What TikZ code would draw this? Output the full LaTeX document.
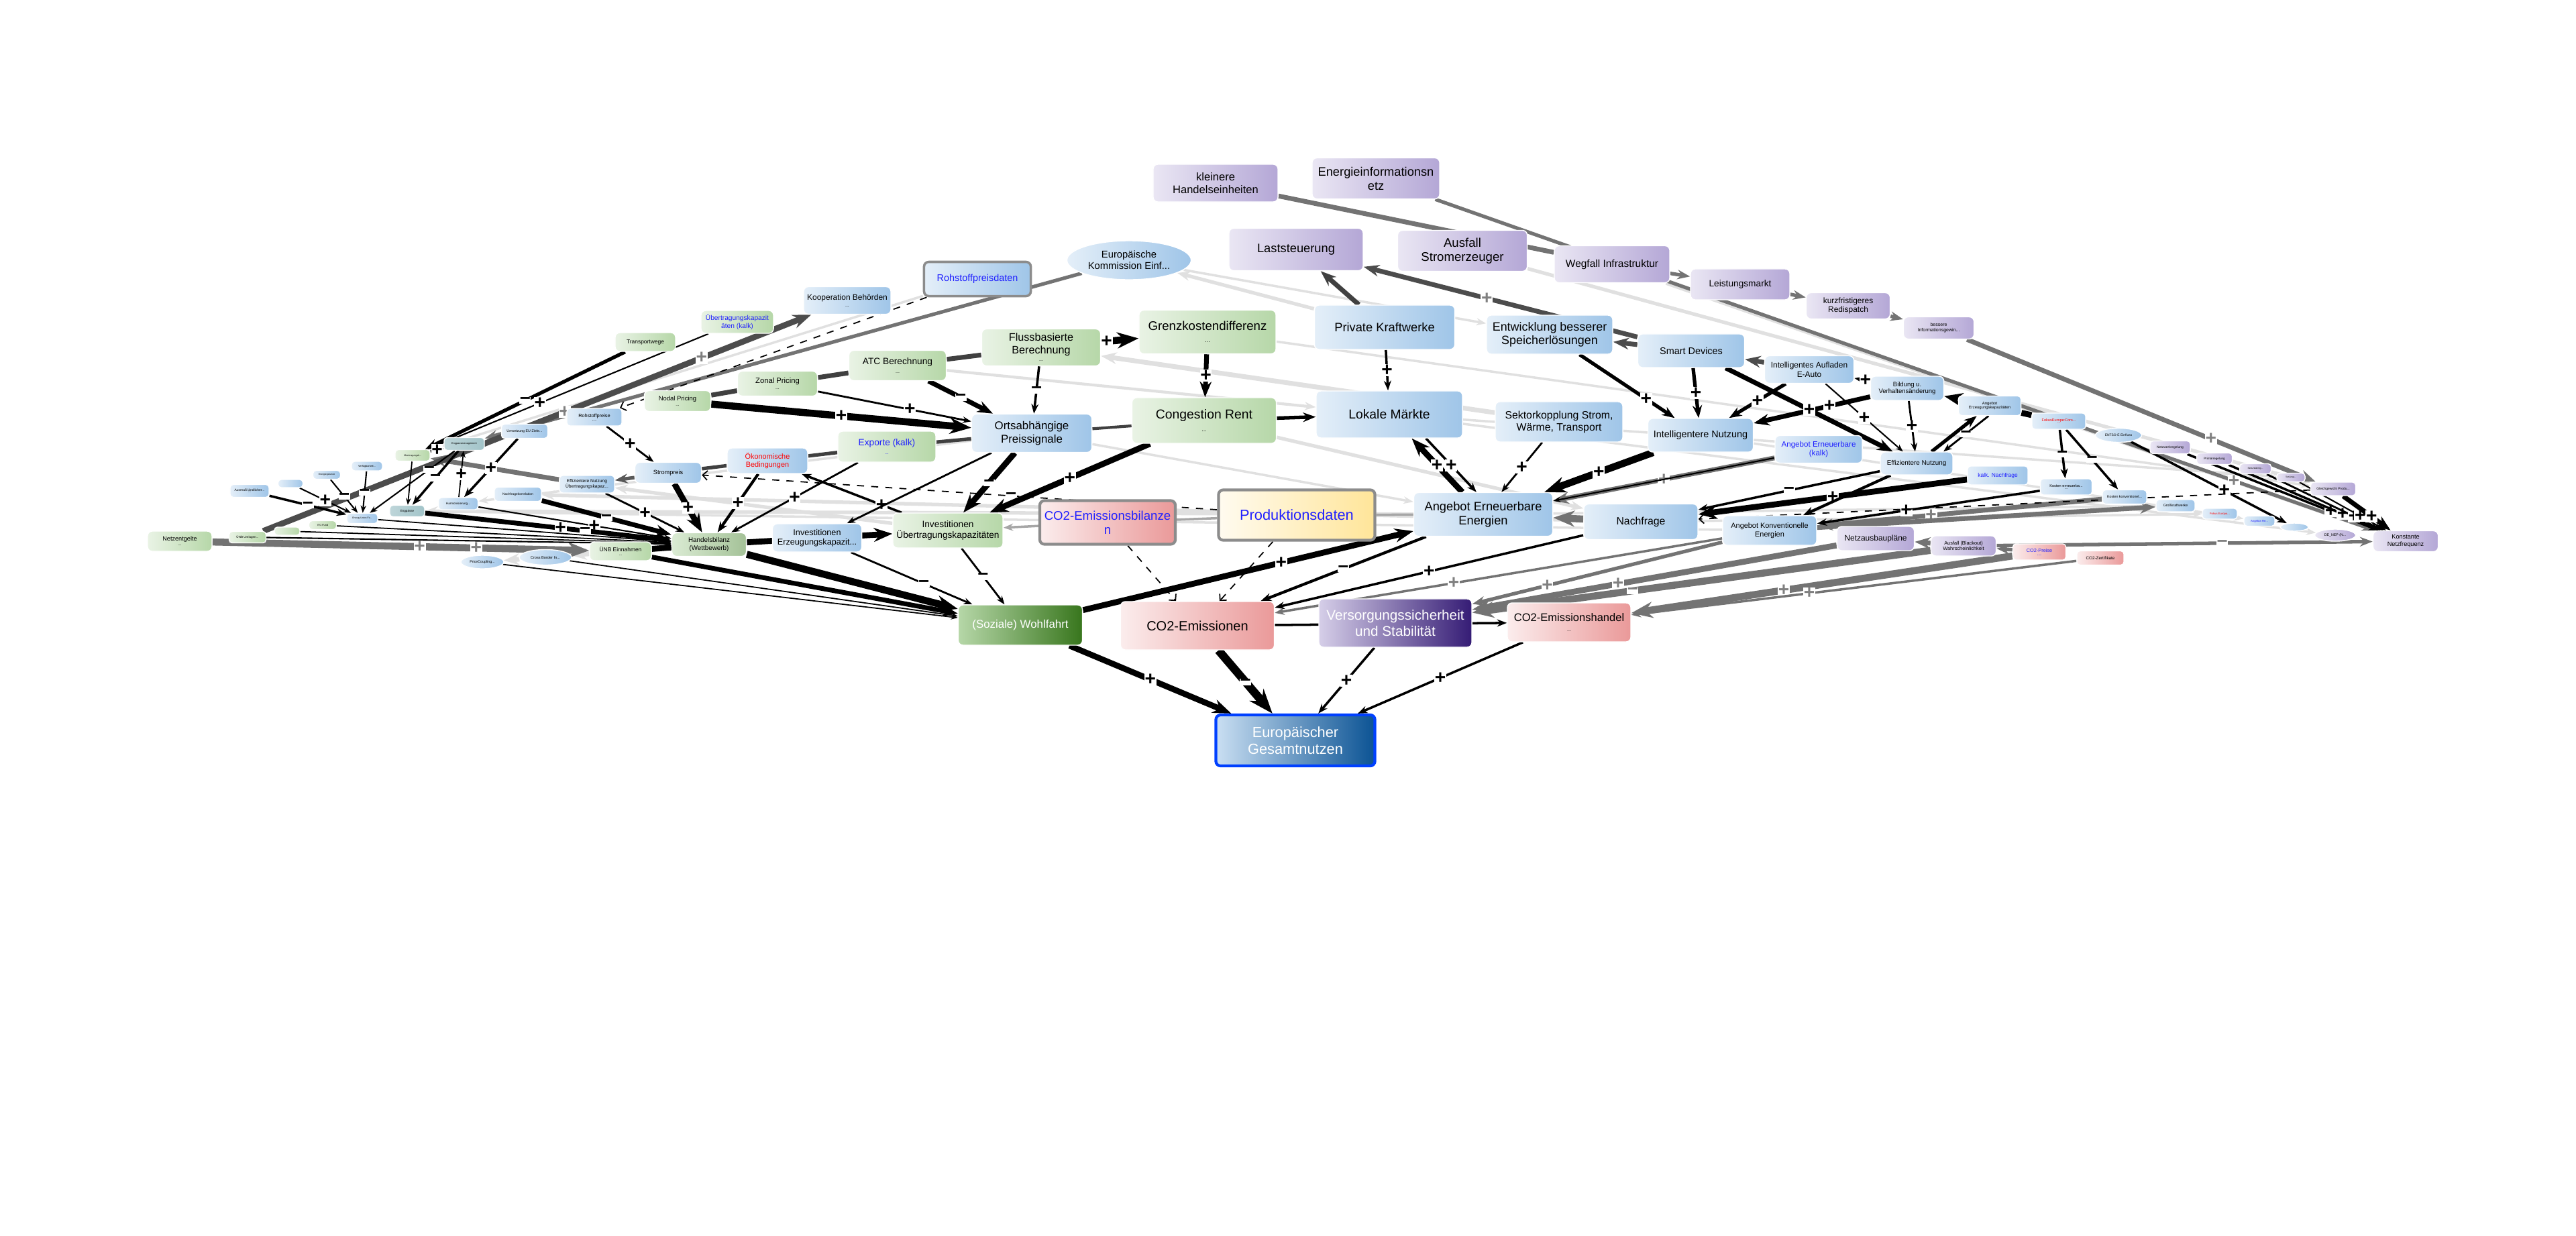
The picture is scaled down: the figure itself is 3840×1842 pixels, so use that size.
\documentclass[tikz,border=0pt]{standalone}
\usepackage{fontspec}
\setmainfont{Liberation Sans}
\usetikzlibrary{positioning,arrows.meta,shapes.geometric}

\definecolor{grn}{HTML}{B6D7A8}
\definecolor{blu}{HTML}{9FC5E8}
\definecolor{prp}{HTML}{B4A7D6}
\definecolor{rd}{HTML}{EA9999}
\definecolor{tl}{HTML}{A2C4C9}
\definecolor{yl}{HTML}{FFE599}
\definecolor{dgrn}{HTML}{38761D}
\definecolor{dprp}{HTML}{351C75}
\definecolor{dblu}{HTML}{0B5394}
\definecolor{txb}{HTML}{2020FF}

\newcommand\fz[1]{\fontsize{#1}{\fpeval{1.15*#1}}\selectfont}

\pgfdeclarelayer{bg}
\pgfsetlayers{bg,main}

\tikzset{
  bx/.style={rounded corners=2pt, draw=white, line width=.4pt, align=center, inner sep=.5pt},
  sml/.style={rounded corners=1.3pt},
  grb/.style={bx, left color=grn!30!white, right color=grn},
  blb/.style={bx, left color=blu!28!white, right color=blu},
  prb/.style={bx, left color=prp!28!white, right color=prp},
  rdb/.style={bx, left color=rd!18!white, right color=rd},
  tlb/.style={bx, left color=tl!70!white, right color=tl},
  ell/.style={ellipse, draw=white, line width=.4pt, align=center, inner sep=0pt, left color=blu!28!white, right color=blu},
  ln/.style={->, line width=#1},
  gy/.style={->, draw=black!55, line width=#1},
  lt/.style={->, draw=black!12, line width=#1},
  cn/.style={draw=black!75, line width=#1},
  dsh/.style={-{Straight Barb[scale=.8]}, dashed, line width=.5pt},
  sg/.style={fill=white, inner sep=.2pt, font=\fz{8}\bfseries},
  gs/.style={sg, text=black!50},
}

\begin{document}
\begin{tikzpicture}[x=0.01cm, y=-0.01cm, >={Stealth[scale=.55]}]
\useasboundingbox (0,0) rectangle (3840,1842);

% top: purple chain
\node[prb, minimum width=1.86cm, minimum height=.56cm, font=\fz{4.7}] (klein) at (1812,273) {kleinere\\Handelseinheiten};
\node[prb, minimum width=1.90cm, minimum height=.61cm, font=\fz{5.2}] (enetz) at (2051,266) {Energieinformationsn\\etz};
\node[prb, minimum width=2.00cm, minimum height=.63cm, font=\fz{5.2}] (last) at (1932,372) {Laststeuerung};
\node[prb, minimum width=1.93cm, minimum height=.61cm, font=\fz{5.3}] (ausst) at (2180,374) {Ausfall\\Stromerzeuger};
\node[prb, minimum width=1.72cm, minimum height=.55cm, font=\fz{4.4}] (wegf) at (2403,394) {Wegfall Infrastruktur};
\node[prb, minimum width=1.48cm, minimum height=.46cm, font=\fz{3.9}] (leist) at (2594,424) {Leistungsmarkt};
\node[prb, minimum width=1.25cm, minimum height=.39cm, font=\fz{3.4}] (kurz) at (2755,456) {kurzfristigeres\\Redispatch};
\node[prb, minimum width=1.05cm, minimum height=.33cm, font=\fz{2}] (bess) at (2890,489) {bessere\\Informationsgewin...};

% upper middle
\node[ell, minimum width=1.85cm, minimum height=.58cm, font=\fz{4.2}] (ekom) at (1683,388) {Europäische\\Kommission Einf...};
\node[blb, draw=black!45, line width=1pt, minimum width=1.59cm, minimum height=.51cm, font=\fz{4.1}, text=txb] (rohd) at (1457,416) {Rohstoffpreisdaten};
\node[blb, minimum width=1.30cm, minimum height=.41cm, font=\fz{3.4}] (koop) at (1263,448) {Kooperation Behörden\\[-1pt]{\fz{2}...}};
\node[grb, minimum width=1.08cm, minimum height=.34cm, font=\fz{2.9}, text=txb] (uebk) at (1099,480) {Übertragungskapazit\\äten (kalk)};
\node[grb, minimum width=.90cm, minimum height=.28cm, font=\fz{2.4}] (trans) at (962,510) {Transportwege};
\node[grb, minimum width=2.04cm, minimum height=.65cm, font=\fz{5.3}] (grenz) at (1800,495) {Grenzkostendifferenz\\[-1pt]{\fz{2.5}...}};
\node[grb, minimum width=1.77cm, minimum height=.55cm, font=\fz{4.6}] (fluss) at (1552,518) {Flussbasierte\\Berechnung\\[-2pt]{\fz{2}...}};
\node[grb, minimum width=1.45cm, minimum height=.45cm, font=\fz{3.9}] (atc) at (1338,545) {ATC Berechnung\\[-1pt]{\fz{2}...}};
\node[grb, minimum width=1.19cm, minimum height=.37cm, font=\fz{3.2}] (zonal) at (1159,572) {Zonal Pricing\\[-1pt]{\fz{2}...}};
\node[grb, minimum width=.99cm, minimum height=.31cm, font=\fz{2.7}] (nodal) at (1010,598) {Nodal Pricing\\[-1pt]{\fz{1.8}...}};
\node[blb, minimum width=2.09cm, minimum height=.66cm, font=\fz{5.2}] (privk) at (2064,488) {Private Kraftwerke};
\node[blb, minimum width=1.88cm, minimum height=.58cm, font=\fz{5.1}] (entw) at (2310,499) {Entwicklung besserer\\Speicherlösungen};
\node[blb, minimum width=1.59cm, minimum height=.50cm, font=\fz{4.1}] (smart) at (2521,523) {Smart Devices};
\node[blb, minimum width=1.33cm, minimum height=.41cm, font=\fz{3.4}] (ladn) at (2697,551) {Intelligentes Aufladen\\E-Auto};
\node[blb, minimum width=1.09cm, minimum height=.36cm, font=\fz{2.7}] (bild) at (2843,579) {Bildung u.\\Verhaltensänderung};
\node[blb, sml, minimum width=.93cm, minimum height=.29cm, font=\fz{1.7}] (aerz) at (2966,605) {Angebot\\Erzeugungskapazitäten};
\node[blb, sml, minimum width=.80cm, minimum height=.24cm, font=\fz{1.6}, text=red] (fokus) at (3069,628) {FokusEurope:Fors...\\[-1pt]...};

% middle row
\node[blb, minimum width=1.79cm, minimum height=.57cm, font=\fz{4.8}] (ortsab) at (1538,646) {Ortsabhängige\\Preissignale};
\node[grb, minimum width=2.15cm, minimum height=.68cm, font=\fz{5.5}] (cong) at (1795,627) {Congestion Rent\\[-1pt]{\fz{2.5}...}};
\node[blb, minimum width=2.18cm, minimum height=.70cm, font=\fz{5.5}] (lokm) at (2071,618) {Lokale Märkte};
\node[blb, minimum width=1.90cm, minimum height=.60cm, font=\fz{4.5}] (sekt) at (2324,629) {Sektorkopplung Strom,\\Wärme, Transport};
\node[blb, minimum width=1.57cm, minimum height=.50cm, font=\fz{4.1}] (intn) at (2535,649) {Intelligentere Nutzung};
\node[blb, minimum width=1.30cm, minimum height=.41cm, font=\fz{3.3}, text=txb] (aeek) at (2711,670) {Angebot Erneuerbare\\(kalk)};
\node[blb, minimum width=1.08cm, minimum height=.34cm, font=\fz{2.8}] (effn) at (2857,691) {Effizientere Nutzung};
\node[blb, sml, minimum width=.90cm, minimum height=.28cm, font=\fz{2.4}, text=txb] (kalkn) at (2978,709) {kalk. Nachfrage};
\node[blb, sml, minimum width=.77cm, minimum height=.24cm, font=\fz{1.6}] (koste) at (3080,726) {Kosten erneuerba...\\[-1pt]...};
\node[blb, sml, minimum width=.66cm, minimum height=.21cm, font=\fz{1.5}] (kostk) at (3167,741) {Kosten konventionel...};
\node[ell, minimum width=.69cm, minimum height=.21cm, font=\fz{1.4}] (entso) at (3158,649) {ENTSO-E Einfluss};
\node[prb, sml, minimum width=.60cm, minimum height=.19cm, font=\fz{1.4}] (nwr) at (3235,667) {Netzwerkregelung};
\node[prb, sml, minimum width=.53cm, minimum height=.17cm, font=\fz{1.3}] (prim) at (3301,684) {Primärregelung};
\node[prb, sml, minimum width=.47cm, minimum height=.15cm, font=\fz{1}] (sek) at (3362,699) {Sekundärreg...};
\node[prb, sml, minimum width=.42cm, minimum height=.13cm, font=\fz{.9}] (ter) at (3415,712) {Tertiärreg...};
\node[prb, sml, minimum width=.67cm, minimum height=.20cm, font=\fz{1.4}] (glg) at (3478,729) {Gleichgewicht Produ...};
\node[blb, sml, minimum width=.58cm, minimum height=.18cm, font=\fz{1.5}] (gk) at (3243,754) {Großkraftwerke};
\node[blb, sml, minimum width=.52cm, minimum height=.16cm, font=\fz{1.2}, text=red] (fokus2) at (3309,766) {Fokus Europa...};
\node[blb, sml, minimum width=.46cm, minimum height=.15cm, font=\fz{1.2}, text=txb] (angre) at (3368,777) {Angebot Re...};
\node[ell, minimum width=.42cm, minimum height=.12cm] (emp2) at (3420,786) {};
\node[ell, left color=prp!28!white, right color=prp, minimum width=.61cm, minimum height=.18cm, font=\fz{1.5}] (denep) at (3481,798) {DE\_NEP (N...};
\node[prb, minimum width=.97cm, minimum height=.31cm, font=\fz{2.6}] (kons) at (3586,807) {Konstante\\Netzfrequenz};

% lower middle row
\node[grb, minimum width=1.64cm, minimum height=.52cm, font=\fz{3.9}] (invue) at (1413,791) {Investitionen\\Übertragungskapazitäten};
\node[rdb, draw=black!45, line width=1.2pt, minimum width=2.02cm, minimum height=.65cm, font=\fz{5.3}, text=txb] (co2bil) at (1651,779) {CO2-Emissionsbilanze\\n};
\node[bx, draw=black!45, line width=1.2pt, left color=yl!15!white, right color=yl, minimum width=2.33cm, minimum height=.75cm, font=\fz{6.2}, text=txb] (prod) at (1933,768) {Produktionsdaten};
\node[blb, minimum width=2.07cm, minimum height=.65cm, font=\fz{5.2}] (aee) at (2211,767) {Angebot Erneuerbare\\Energien};
\node[blb, minimum width=1.70cm, minimum height=.53cm, font=\fz{4.5}] (nach) at (2446,778) {Nachfrage};
\node[blb, minimum width=1.40cm, minimum height=.44cm, font=\fz{3.1}] (akonv) at (2638,791) {Angebot Konventionelle\\Energien};
\node[prb, minimum width=1.15cm, minimum height=.36cm, font=\fz{3.4}] (netzaus) at (2796,803) {Netzausbaupläne};
\node[prb, minimum width=.97cm, minimum height=.30cm, font=\fz{2.1}] (ausbl) at (2927,814) {Ausfall (Blackout)\\Wahrscheinlichkeit};
\node[rdb, sml, minimum width=.79cm, minimum height=.24cm, font=\fz{2.1}, text=txb] (co2p) at (3040,823) {CO2-Preise\\[-1pt]...};
\node[rdb, sml, minimum width=.70cm, minimum height=.21cm, font=\fz{1.8}] (co2z) at (3131,832) {CO2-Zertifikate};

% left side
\node[blb, minimum width=1.33cm, minimum height=.42cm, font=\fz{3.6}] (inverz) at (1218,802) {Investitionen\\Erzeugungskapazit...};
\node[grb, left color=grn!50!white, right color=grn!90!black, minimum width=1.11cm, minimum height=.35cm, font=\fz{2.8}] (handel) at (1057,812) {Handelsbilanz\\(Wettbewerb)};
\node[grb, minimum width=.92cm, minimum height=.28cm, font=\fz{2.4}] (uenb) at (925,822) {ÜNB Einnahmen\\[-1pt]{\fz{1.6}...}};
\node[ell, minimum width=.78cm, minimum height=.23cm, font=\fz{1.6}] (cbi) at (813,831) {Cross Border In...};
\node[ell, minimum width=.64cm, minimum height=.20cm, font=\fz{1.5}] (pricec) at (719,838) {PriceCoupling...};
\node[blb, minimum width=.99cm, minimum height=.31cm, font=\fz{2.6}] (strom) at (996,705) {Strompreis};
\node[blb, minimum width=1.20cm, minimum height=.38cm, font=\fz{3.1}, text=red] (oekon) at (1144,687) {Ökonomische\\Bedingungen};
\node[grb, minimum width=1.46cm, minimum height=.46cm, font=\fz{3.9}, text=txb] (expo) at (1322,666) {Exporte (kalk)\\[-1pt]{\fz{2}...}};
\node[blb, sml, minimum width=.82cm, minimum height=.26cm, font=\fz{2.1}] (rohp) at (886,622) {Rohstoffpreise\\[-1pt]...};
\node[blb, sml, minimum width=.69cm, minimum height=.21cm, font=\fz{1.5}] (umsetz) at (782,643) {Umsetzung EU-Ziele...};
\node[tlb, sml, minimum width=.60cm, minimum height=.19cm, font=\fz{1.1}] (engpm) at (692,662) {Engpassmanagement};
\node[grb, sml, minimum width=.52cm, minimum height=.17cm, font=\fz{1}] (uebsm) at (615,679) {Übertragungsk...};
\node[blb, sml, minimum width=.82cm, minimum height=.26cm, font=\fz{1.9}] (effue) at (875,722) {Effizientere Nutzung\\Übertragungskapaz...};
\node[blb, sml, minimum width=.70cm, minimum height=.21cm, font=\fz{1.4}] (nkorr) at (772,737) {Nachfragekorrelation};
\node[blb, sml, minimum width=.59cm, minimum height=.18cm, font=\fz{1.3}] (harm) at (683,751) {Harmonisierung...};
\node[tlb, sml, minimum width=.52cm, minimum height=.17cm, font=\fz{1.3}] (engp) at (607,762) {Engpässe};
\node[blb, sml, minimum width=.58cm, minimum height=.19cm, font=\fz{1.4}] (ausm) at (372,732) {Ausmaß ländlicher...\\[-1pt]...};
\node[blb, sml, minimum width=.37cm, minimum height=.12cm] (emp1) at (433,721) {};
\node[blb, sml, minimum width=.41cm, minimum height=.13cm, font=\fz{1}] (energ) at (487,708) {Energiegesetze};
\node[blb, sml, minimum width=.46cm, minimum height=.14cm, font=\fz{1.1}] (verf) at (547,695) {Verfügbarkeit...};
\node[blb, sml, minimum width=.46cm, minimum height=.15cm, font=\fz{1}] (engyu) at (540,773) {Energy Union Fo...};
\node[grb, sml, minimum width=.41cm, minimum height=.13cm, font=\fz{1.1}] (itc) at (481,783) {ITC-Fund};
\node[grb, sml, minimum width=.38cm, minimum height=.12cm] (emp3) at (428,792) {};
\node[grb, sml, minimum width=.55cm, minimum height=.17cm, font=\fz{1.3}] (umlage) at (369,801) {ÜNB Umlagen...};
\node[grb, minimum width=.96cm, minimum height=.30cm, font=\fz{2.6}] (netz) at (268,807) {Netzentgelte\\[-1pt]{\fz{1.8}...}};

% bottom: targets
\node[bx, left color=grn, right color=dgrn, text=white, minimum width=1.85cm, minimum height=.60cm, font=\fz{4.8}] (wohl) at (1521,932) {(Soziale) Wohlfahrt};
\node[rdb, minimum width=2.29cm, minimum height=.72cm, font=\fz{5.7}] (co2em) at (1785,933) {CO2-Emissionen};
\node[bx, left color=prp!55!white, right color=dprp, text=white, minimum width=2.28cm, minimum height=.72cm, font=\fz{5.9}] (vers) at (2080,929) {Versorgungssicherheit\\und Stabilität};
\node[rdb, minimum width=1.84cm, minimum height=.58cm, font=\fz{4.7}] (co2h) at (2339,928) {CO2-Emissionshandel\\[-1pt]{\fz{2}...}};
\node[bx, draw=blue!75!cyan, line width=1.2pt, left color=blu!55!white, right color=dblu, text=white, minimum width=2.37cm, minimum height=.76cm, font=\fz{6.2}] (eug) at (1931,1104) {Europäischer\\Gesamtnutzen};

\begin{pgfonlayer}{bg}
% light background links
\draw[lt=1.5pt] (privk) -- (ekom);
\draw[lt=2pt] (sekt) -- (fluss);
\draw[lt=1.5pt] (cong) -- (nach);
\draw[lt=1pt] (ortsab) -- (aee);
\draw[lt=1.2pt] (atc) -- (lokm);
\draw[lt=1.5pt] (aee) -- (engp);
\draw[lt=1.5pt] (nach) -- (nkorr);
\draw[lt=2pt] (cbi) -- (pricec);
\draw[lt=2pt] (uenb) -- (cbi);
\draw[lt=1.5pt] (ausst) -- (glg);
\draw[lt=1.5pt] (wegf) -- (kons);
\draw[lt=1pt] (ekom) -- (entw);
\draw[lt=1pt] (grenz) -- (glg);
\draw[lt=1pt] (aee) -- (gk);
\draw[lt=1pt] (lokm) -- (denep);
\draw[lt=1.5pt] (invue) -- (effue);
\draw[lt=1pt] (rohd) -- (uebsm);
\draw[lt=1pt] (nach) -- (fokus2);
\draw[lt=1pt] (intn) -- (angre);
\draw[lt=1pt] (ortsab) -- (harm);
\draw[lt=1pt] (akonv) -- (engp);
\draw[lt=1pt] (lokm) -- (ter);
\draw[gy=1pt, draw=black!35] (co2bil) -- (invue);
\draw[cn=1pt, draw=black!35] (prod) -- (co2bil);
\draw[cn=1pt, draw=black!35] (aee) -- (prod);

% grey links
\draw[cn=2pt, draw=black!55] (klein) -- (wegf);
\draw[gy=1.5pt] (wegf) -- (leist);
\draw[gy=1.5pt] (leist) -- (kurz);
\draw[gy=1.5pt] (kurz) -- (bess);
\draw[gy=2pt] (bess) -- node[gs, pos=.7]{+} (glg);
\draw[gy=1.5pt] (enetz) -- node[gs, pos=.85]{+} (kons);
\draw[gy=2pt] (effue) -- (uebsm);
\draw[gy=3pt] (netz) -- node[gs, pos=.55]{+} node[gs, pos=.7]{+} (uenb);
\draw[gy=2pt] (aeek) -- node[gs]{+} (aee);
\draw[gy=3pt] (nach) -- (aee);
\draw[gy=2pt] (kostk) -- node[gs, pos=.6]{+} (akonv);
\draw[gy=2pt] (ausbl) -- (netzaus);
\draw[gy=1.5pt] (co2p) -- (ausbl);
\draw[gy=2pt] (akonv) -- (gk);
\draw[gy=2.5pt] (netzaus) -- node[gs, pos=.6]{+} (vers);
\draw[gy=3pt] (ausbl) -- node[gs, pos=.65]{–} (vers);
\draw[gy=1.5pt] (akonv) -- node[gs, pos=.7]{+} (vers);
\draw[gy=1pt] (akonv) -- node[gs, pos=.6]{+} (co2em);
\draw[gy=3pt] (co2p) -- node[gs, pos=.6]{+} (co2h);
\draw[gy=1pt] (co2z) -- node[gs, pos=.6]{+} (co2h);
\draw[gy=1.5pt] (ausbl) -- node[gs, pos=.6]{–} (kons);
\draw[gy=2pt, draw=black!70] (smart) -- (entw);
\draw[gy=2pt, draw=black!70] (ladn) -- (smart);
\draw[gy=2pt, draw=black!75] (privk) -- (last);
\draw[gy=2pt, draw=black!70] (smart) -- node[gs, pos=.55]{+} (last);
\draw[gy=1.5pt] (ekom) -- (engpm);
\draw[gy=2.5pt, draw=black!70] (umlage) -- node[gs, pos=.55]{+} node[gs, pos=.8]{+} (koop);
\draw[gy=1.5pt, draw=black!65] (strom) -- (effue);
\draw[cn=1.5pt] (expo) -- (ortsab);
\draw[cn=1.5pt] (oekon) -- (expo);
\draw[cn=1.5pt] (strom) -- (oekon);
\draw[cn=2pt] (nodal) -- (zonal);
\draw[cn=2pt] (zonal) -- (atc);
\draw[cn=2pt] (atc) -- (fluss);
\draw[cn=1.2pt] (cong) -- (ortsab);

% black links: bottom
\draw[ln=2.5pt] (wohl) -- node[sg]{+} (eug);
\draw[ln=3.5pt] (co2em) -- node[sg]{–} (eug);
\draw[ln=1pt] (vers) -- node[sg]{+} (eug);
\draw[ln=1pt] (co2h) -- node[sg]{+} (eug);
\draw[ln=1pt] (co2em) -- (co2h);
\draw[ln=2.5pt] (wohl) -- node[sg, pos=.6]{+} (aee);
\draw[ln=1.2pt] (aee) -- node[sg]{–} (co2em);
\draw[ln=1pt] (nach) -- node[sg]{+} (co2em);
\draw[dsh] (co2bil) -- (co2em);
\draw[dsh] (prod) -- (co2em);
\draw[ln=.8pt] (invue) -- node[sg]{–} (wohl);
\draw[ln=3pt] (handel) -- (wohl);
\draw[ln=2pt] (uenb) -- (wohl);
\draw[ln=.8pt] (inverz) -- node[sg, pos=.6]{–} (wohl);
\draw[ln=.5pt] (pricec) -- (wohl);
\draw[ln=.5pt] (cbi) -- (wohl);

% black links: centre
\draw[ln=2.5pt] (handel) -- (invue);
\draw[ln=1pt] (invue) -- node[sg, pos=.2]{+} (oekon);
\draw[ln=.8pt] (expo) -- node[sg]{+} (handel);
\draw[ln=1.2pt] (oekon) -- node[sg]{+} (handel);
\draw[ln=.8pt] (ortsab) -- (inverz);
\draw[dsh] (prod) -- node[sg, pos=.4]{–} (strom);
\draw[ln=2.5pt] (ortsab) -- node[sg]{–} (invue);
\draw[ln=2.5pt] (cong) -- node[sg]{+} (invue);
\draw[ln=1pt] (fluss) -- node[sg]{–} (ortsab);
\draw[ln=2pt] (atc) -- node[sg]{–} (ortsab);
\draw[ln=.8pt] (zonal) -- node[sg, pos=.6]{+} (ortsab);
\draw[ln=3pt] (nodal) -- node[sg]{+} (ortsab);
\draw[ln=2pt] (grenz) -- node[sg]{+} (cong);
\draw[ln=3pt] (fluss) -- node[sg, pos=.15]{+} (grenz);
\draw[ln=1.5pt] (cong) -- (lokm);
\draw[ln=1pt] (privk) -- node[sg]{+} (lokm);
\draw[ln=2.5pt] (aee) -- node[sg]{+} (lokm);
\draw[ln=1pt, transform canvas={xshift=6pt}] (lokm) -- node[sg]{+} (aee);
\draw[ln=.8pt] (sekt) -- node[sg]{+} (aee);
\draw[ln=3pt] (intn) -- node[sg]{+} (aee);
\draw[ln=.6pt] (aeek) -- (aee);

% black links: right
\draw[ln=1.5pt] (smart) -- node[sg]{+} (intn);
\draw[ln=1.5pt] (ladn) -- node[sg]{+} (intn);
\draw[ln=2pt] (bild) -- node[sg, pos=.35]{+} (intn);
\draw[ln=1.5pt] (entw) -- node[sg, pos=.7]{+} (intn);
\draw[ln=2pt] (smart) -- node[sg]{+} (effn);
\draw[ln=.6pt] (ladn) -- node[sg]{+} (effn);
\draw[ln=.8pt] (bild) -- node[sg]{+} (effn);
\draw[ln=1.5pt] (effn) -- (aerz);
\draw[ln=.8pt, transform canvas={xshift=5pt}] (aerz) -- node[sg]{–} (effn);
\draw[ln=2.5pt] (aerz) -- (bild);
\draw[cn=2.5pt, draw=black] (fokus) -- (aerz);
\draw[ln=1.5pt] (bild) -- node[sg, pos=.3]{+} (ladn);
\draw[ln=1pt] (effn) -- node[sg]{–} (nach);
\draw[ln=2.5pt] (kalkn) -- node[sg]{+} (nach);
\draw[ln=1.2pt] (effn) -- (akonv);
\draw[ln=1pt] (koste) -- node[sg, pos=.6]{+} (akonv);
\draw[ln=1pt] (fokus) -- node[sg]{–} (koste);
\draw[ln=1pt] (fokus) -- node[sg]{–} (kostk);
\draw[ln=1pt] (entso) -- node[sg, pos=.6]{+} (emp2);
\draw[dsh] (glg) -- node[sg, pos=.3]{+} (nach);
\draw[ln=1pt] (nwr) -- node[sg, pos=.75]{+} (kons);
\draw[ln=1pt] (prim) -- node[sg, pos=.75]{+} (kons);
\draw[ln=.8pt] (sek) -- node[sg, pos=.75]{+} (kons);
\draw[ln=.6pt] (ter) -- node[sg, pos=.7]{+} (kons);
\draw[ln=2pt] (glg) -- node[sg, pos=.6]{+} (kons);

% black links: left
\draw[dsh] (rohd) -- (rohp);
\draw[ln=.8pt] (rohp) -- node[sg]{+} (strom);
\draw[ln=2.5pt] (strom) -- node[sg]{+} (handel);
\draw[ln=.8pt] (effue) -- node[sg]{+} (handel);
\draw[ln=2pt] (nkorr) -- node[sg]{–} (handel);
\draw[ln=.6pt] (harm) -- node[sg, pos=.6]{+} (handel);
\draw[ln=2pt] (engp) -- node[sg, pos=.55]{+} node[sg, pos=.65]{–} (handel);
\draw[cn=2.5pt, draw=black] (uenb) -- (handel);
\draw[ln=1.5pt] (trans) -- node[sg]{–} (uebsm);
\draw[ln=.6pt] (uebk) -- node[sg, pos=.6]{+} (uebsm);
\draw[ln=1pt] (uebsm) -- node[sg]{+} (engpm);
\draw[ln=1pt] (engpm) -- node[sg]{–} (engp);
\draw[ln=.5pt] (uebsm) -- (engp);
\draw[ln=.5pt] (harm) -- node[sg]{+} (engpm);
\draw[ln=1pt] (umsetz) -- node[sg]{+} (harm);
\draw[ln=.6pt] (engpm) -- node[sg, pos=.3]{–} (engyu);
\draw[ln=1pt] (ausm) -- node[sg]{–} (engyu);
\draw[ln=.6pt] (emp1) -- node[sg]{+} (engyu);
\draw[ln=.6pt] (energ) -- node[sg]{–} (engyu);
\draw[ln=.6pt] (verf) -- node[sg]{–} (engyu);
\draw[ln=.6pt] (umlage) -- (handel);
\draw[ln=.5pt] (itc) -- (handel);
\draw[ln=.5pt] (engyu) -- (handel);
\draw[ln=.5pt] (emp3) -- (handel);
\end{pgfonlayer}
\end{tikzpicture}
\end{document}
